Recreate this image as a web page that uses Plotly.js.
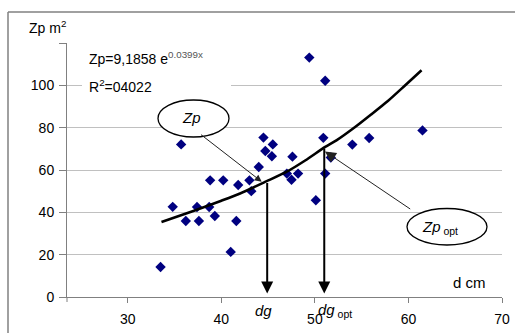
<!DOCTYPE html>
<html>
<head>
<meta charset="utf-8">
<script src="https://cdn.plot.ly/plotly-3.0.1.min.js"></script>
<style>
html,body{margin:0;padding:0;background:#fff;}
#chart{width:515px;height:333px;}
</style>
</head>
<body>
<div id="chart"></div>
<script>
// Observed trees: diameter d (cm) and Zp (m2)
const diameter = [33.5,34.8,35.7,36.2,37.6,37.4,38.7,39.3,38.8,40.2,41.0,41.6,41.8,43.0,43.2,44.0,44.5,45.5,44.7,45.4,47.6,47.0,47.5,48.2,50.1,50.9,51.1,51.7,49.4,51.1,61.5,55.8,54.0];
const zpValues = [14.2,42.6,72.1,35.9,35.9,42.5,42.5,38.3,55.1,55.1,21.3,35.9,52.9,55.1,50.0,61.4,75.3,72.1,69.0,66.5,66.3,58.3,55.4,58.3,45.7,75.2,58.3,65.9,113.1,102.2,78.7,75.1,72.0];

// Trend curve
const trendX = [33.6,37,40,42,44.8,47,49,51.1,52.3,54.3,56,57.8,59.6,61.4];
const trendY = [35.4,40.6,45.5,48.9,54.6,59.2,64.6,70.9,74.0,80.3,86.2,92.6,99.8,107.1];

// Marked points
const dg = 44.9, zpAtDg = 54.6;
const dgOpt = 51.0, zpAtOpt = 70.9;

const xTicks = [30,40,50,60,70];
const yTicks = [0,20,40,60,80,100,120];
const yTickText = ['0','20','40','60','80','100',' '];

const FONT = 'Arial, "Liberation Sans", sans-serif';

// pixel -> paper helpers (plot area 67..502 x, 43..297 y)
const L = 67, T = 43, W = 435, H = 254;
const px = x => (x - L) / W;
const py = y => (T + H - y) / H;

const traces = [
  {
    x: diameter, y: zpValues, type: 'scatter', mode: 'markers',
    marker: {symbol: 'diamond', size: 8, color: '#000080'},
    hoverinfo: 'skip', showlegend: false
  },
  {
    x: trendX, y: trendY, type: 'scatter', mode: 'lines',
    line: {color: '#000', width: 2.6, shape: 'spline', smoothing: 0.6},
    hoverinfo: 'skip', showlegend: false
  }
];

const annotations = [
  {xref:'paper', yref:'paper', x:px(27), y:py(27), xanchor:'left', yanchor:'middle',
   text:'Zp m<sup>2</sup>', showarrow:false, font:{family:FONT, size:14, color:'#000'}},
  {xref:'paper', yref:'paper', x:px(87), y:py(58), xanchor:'left', yanchor:'middle',
   text:'Zp=9,1858 e<sup><span style="color:#555">0.0399x</span></sup>', showarrow:false,
   font:{family:FONT, size:14, color:'#000'}},
  {xref:'paper', yref:'paper', x:px(87), y:py(86), xanchor:'left', yanchor:'middle',
   text:'R<sup>2</sup>=04022', showarrow:false, font:{family:FONT, size:14, color:'#000'}},
  {xref:'paper', yref:'paper', x:px(191), y:py(117), xanchor:'center', yanchor:'middle',
   text:'<i>Zp</i>', showarrow:false, font:{family:FONT, size:15, color:'#000'}},
  {xref:'paper', yref:'paper', x:px(440), y:py(227), xanchor:'center', yanchor:'middle',
   text:'<i>Zp</i><sub> opt</sub>', showarrow:false, font:{family:FONT, size:15, color:'#000'}},
  {xref:'paper', yref:'paper', x:px(469), y:py(282), xanchor:'center', yanchor:'middle',
   text:'d cm', showarrow:false, font:{family:FONT, size:15, color:'#000'}},
  {xref:'paper', yref:'paper', x:px(263), y:py(310), xanchor:'center', yanchor:'middle',
   text:'<i>dg</i>', showarrow:false, font:{family:FONT, size:15, color:'#000'}},
  {xref:'paper', yref:'paper', x:px(316), y:py(310), xanchor:'left', yanchor:'middle',
   text:'<i>dg</i><sub> opt</sub>', showarrow:false, font:{family:FONT, size:15, color:'#000'}},
  // pointer arrows from ellipses
  {xref:'paper', yref:'paper', x:px(261.7), y:py(181.7), ax:199.5-261.7, ay:133.5-181.7,
   axref:'pixel', ayref:'pixel', text:'', showarrow:true, arrowhead:2, arrowsize:1.4,
   arrowwidth:1, arrowcolor:'#222', standoff:0},
  {xref:'paper', yref:'paper', x:px(325), y:py(151.5), ax:411.7-325, ay:210-151.5,
   axref:'pixel', ayref:'pixel', text:'', showarrow:true, arrowhead:2, arrowsize:2.2,
   arrowwidth:1, arrowcolor:'#222', standoff:0},
  // vertical arrows down to the axis
  {xref:'x', yref:'y', x:dg, y:1.6, axref:'x', ayref:'y', ax:dg, ay:zpAtDg,
   text:'', showarrow:true, arrowhead:2, arrowsize:1.2, arrowwidth:2, arrowcolor:'#000', standoff:0},
  {xref:'x', yref:'y', x:dgOpt, y:1.6, axref:'x', ayref:'y', ax:dgOpt, ay:zpAtOpt,
   text:'', showarrow:true, arrowhead:2, arrowsize:1.2, arrowwidth:2, arrowcolor:'#000', standoff:0}
];

const shapes = [
  // outer frame (top and left)
  {type:'line', xref:'paper', yref:'paper', x0:px(8), x1:px(515), y0:py(12), y1:py(12),
   line:{color:'#808080', width:1.5}},
  {type:'line', xref:'paper', yref:'paper', x0:px(8), x1:px(8), y0:py(12), y1:py(333),
   line:{color:'#808080', width:1.5}},
  // white box behind equation text
  {type:'rect', xref:'paper', yref:'paper', x0:px(82), x1:px(231), y0:py(95), y1:py(77),
   fillcolor:'#fff', line:{width:0}, layer:'above'},
  // y axis extension below x axis
  {type:'line', xref:'paper', yref:'paper', x0:0, x1:0, y0:py(T+H+5), y1:0,
   line:{color:'#808080', width:1}},
  // ellipses
  {type:'circle', xref:'paper', yref:'paper', x0:px(158), x1:px(229), y0:py(137), y1:py(100),
   fillcolor:'#fff', line:{color:'#000', width:1.3}, layer:'above'},
  {type:'circle', xref:'paper', yref:'paper', x0:px(407), x1:px(487), y0:py(245), y1:py(208.5),
   fillcolor:'#fff', line:{color:'#000', width:1.3}, layer:'above'}
];

const layout = {
  width: 515, height: 333,
  margin: {l: L, r: 515 - L - W, t: T, b: 333 - T - H, pad: 0},
  paper_bgcolor: '#fff', plot_bgcolor: '#fff',
  font: {family: FONT, size: 14, color: '#000'},
  showlegend: false,
  xaxis: {
    range: [23.5, 70], tickvals: xTicks, ticktext: xTicks.map(String),
    showgrid: false, zeroline: false, showline: true, linecolor: '#808080', linewidth: 1,
    ticks: 'outside', ticklen: 5, tickcolor: '#808080', tickwidth: 1, ticklabelstandoff: 4,
    tickfont: {family: FONT, size: 14, color: '#000'}, fixedrange: true
  },
  yaxis: {
    range: [0, 120], tickvals: yTicks, ticktext: yTickText,
    showgrid: true, gridcolor: '#c0c0c0', gridwidth: 1,
    zeroline: false, showline: true, linecolor: '#808080', linewidth: 1,
    ticks: 'outside', ticklen: 7, tickcolor: '#808080', tickwidth: 1, ticklabelstandoff: 2,
    tickfont: {family: FONT, size: 14, color: '#000'}, fixedrange: true
  },
  annotations: annotations,
  shapes: shapes
};

Plotly.newPlot('chart', traces, layout, {staticPlot: true, displayModeBar: false});
</script>
</body>
</html>
